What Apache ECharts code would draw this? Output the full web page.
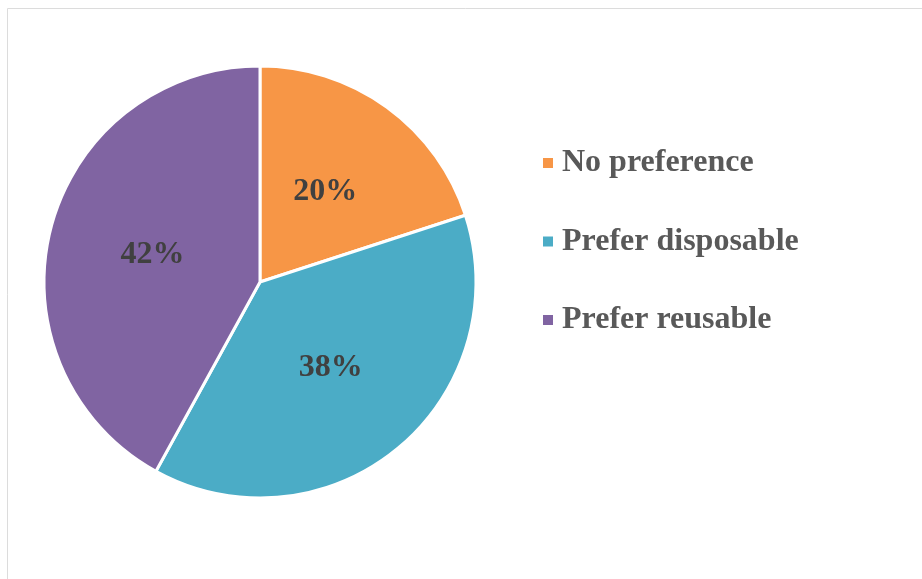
<!DOCTYPE html>
<html>
<head>
<meta charset="utf-8">
<script src="https://cdn.jsdelivr.net/npm/echarts@6/dist/echarts.min.js"></script>
<style>html,body{margin:0;padding:0;background:#fff;}#c{width:922px;height:579px;}</style>
</head>
<body>
<div id="c"></div>
<script>
const categories = ['No preference', 'Prefer disposable', 'Prefer reusable'];
const values = [20, 38, 42];
const colors = ['#F79646', '#4BACC6', '#8064A2'];

const chart = echarts.init(document.getElementById('c'), null, {renderer: 'canvas'});
chart.setOption({
  animation: false,
  backgroundColor: '#ffffff',
  color: colors,
  graphic: [{
    type: 'rect', left: 5, top: 6, silent: true,
    shape: {width: 940, height: 600},
    style: {fill: 'none', stroke: '#dcdcdc', lineWidth: 1}
  }],
  legend: {
    orient: 'vertical',
    left: 536, top: 142,
    itemWidth: 12, itemHeight: 12,
    itemGap: 46.5,
    icon: 'rect',
    data: categories,
    textStyle: {
      fontFamily: 'Liberation Serif, Times New Roman, serif',
      fontWeight: 'bold', fontSize: 32, color: '#595959',
      lineHeight: 30, padding: [0, 0, 0, 3]
    }
  },
  series: [{
    type: 'pie',
    center: [260, 282],
    radius: [0, 216],
    startAngle: 90,
    clockwise: true,
    itemStyle: {borderColor: '#ffffff', borderWidth: 3},
    label: {
      show: true, position: 'inside',
      formatter: p => p.value + '%',
      fontFamily: 'Liberation Serif, Times New Roman, serif',
      fontWeight: 'bold', fontSize: 32, color: '#404040',
      padding: [4, 0, 0, 0]
    },
    labelLine: {show: false},
    data: categories.map((n, i) => ({name: n, value: values[i]}))
  }]
});
</script>
</body>
</html>
